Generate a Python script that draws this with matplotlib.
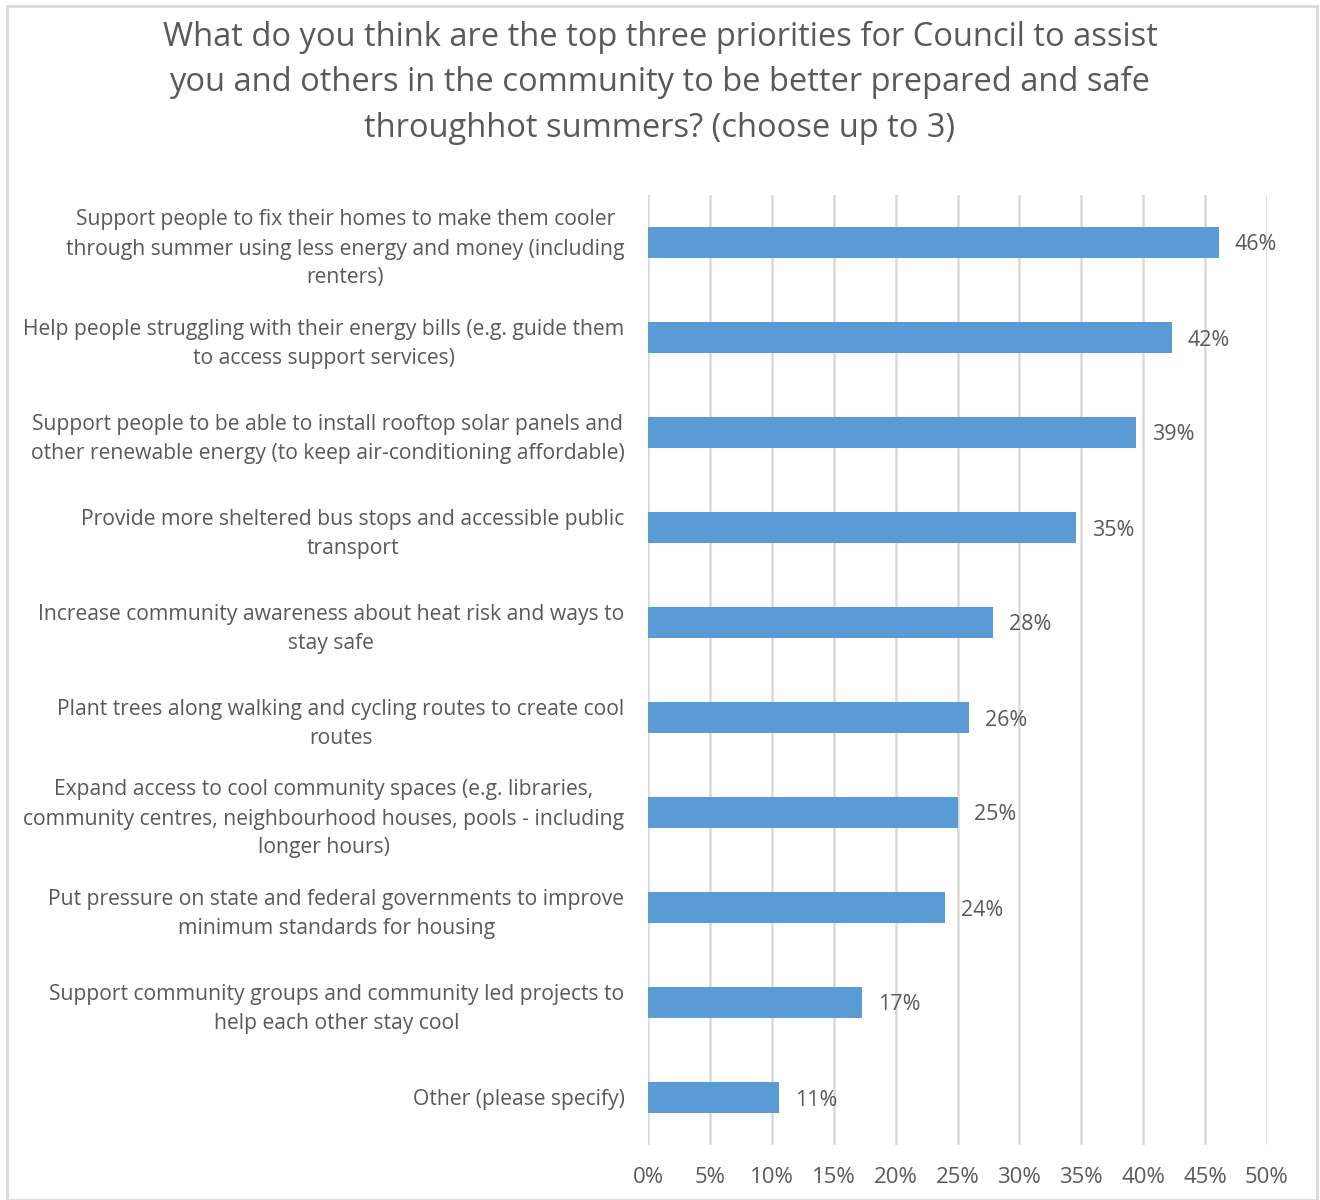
import matplotlib.pyplot as plt
from matplotlib.patches import Rectangle

plt.rcParams['font.family'] = ['Open Sans', 'DejaVu Sans']

categories = [
    "Support people to fix their homes to make them cooler\nthrough summer using less energy and money (including\nrenters)",
    "Help people struggling with their energy bills (e.g. guide them\nto access support services)",
    "Support people to be able to install rooftop solar panels and\nother renewable energy (to keep air-conditioning affordable)",
    "Provide more sheltered bus stops and accessible public\ntransport",
    "Increase community awareness about heat risk and ways to\nstay safe",
    "Plant trees along walking and cycling routes to create cool\nroutes",
    "Expand access to cool community spaces (e.g. libraries,\ncommunity centres, neighbourhood houses, pools - including\nlonger hours)",
    "Put pressure on state and federal governments to improve\nminimum standards for housing",
    "Support community groups and community led projects to\nhelp each other stay cool",
    "Other (please specify)",
]
values = [46.1, 42.3, 39.4, 34.6, 27.9, 25.9, 25.0, 24.0, 17.3, 10.6]
ticks = list(range(0, 51, 5))

txt = '#595959'
fig = plt.figure(figsize=(13.2, 12), dpi=100)
ax = fig.add_axes([648/1320, 1 - 1145/1200, (1267-648)/1320, (1145-195)/1200])

ypos = list(range(len(categories)))
ax.barh(ypos, values, height=0.32, color='#5b9bd5', zorder=3)
for y, v in zip(ypos, values):
    ax.text(v + 1.3, y, f"{v:.0f}%", va='center_baseline', ha='left', fontsize=15.5, color=txt)

ax.set_ylim(len(categories) - 0.5, -0.5)
ax.set_xlim(0, 50)
ax.set_xticks(ticks)
ax.set_xticklabels([f"{t}%" for t in ticks], fontsize=16, color=txt)
ax.set_yticks(ypos)
ax.set_yticklabels(categories, fontsize=15.2, color=txt, multialignment='center', linespacing=1.5)
ax.tick_params(axis='both', length=0)
ax.tick_params(axis='x', pad=16)
ax.tick_params(axis='y', pad=17)
ax.grid(axis='x', color='#d9d9d9', linewidth=1.8, zorder=0)
for s in ax.spines.values():
    s.set_visible(False)

fig.text(0.5, 0.983,
         "What do you think are the top three priorities for Council to assist\n"
         "you and others in the community to be better prepared and safe\n"
         "throughhot summers? (choose up to 3)",
         ha='center', va='top', fontsize=23.5, color=txt, linespacing=1.5)

fig.patches.append(Rectangle((7/1320, 0), 1310/1320, 1 - 6/1200, transform=fig.transFigure,
                             fill=False, edgecolor='#d9d9d9', linewidth=2))

fig.savefig("out.png", dpi=100, facecolor='white')
